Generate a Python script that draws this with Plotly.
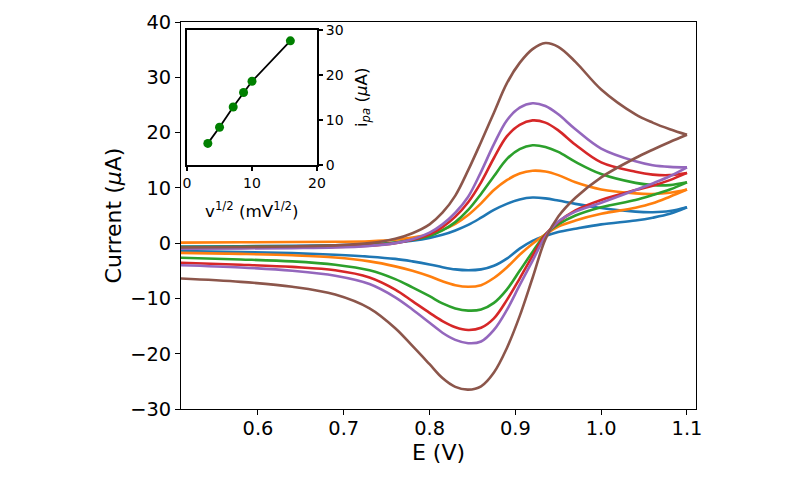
import plotly.graph_objects as go

# Potential grid (V), ascending; forward sweep runs along it, reverse sweep runs back
E = [0.51, 0.58, 0.64, 0.69, 0.73, 0.76, 0.78, 0.80, 0.815, 0.83, 0.845, 0.86,
     0.875, 0.89, 0.905, 0.92, 0.935, 0.95, 0.97, 1.00, 1.04, 1.06, 1.08, 1.10]
E_rev = E[::-1]

# Currents (uA). *_fwd follow E (0.51 -> 1.10); *_rev follow E_rev (1.10 -> 0.51)
i10_fwd = [-0.6, -0.55, -0.5, -0.4, -0.2, 0.1, 0.45, 0.95, 1.5, 2.3, 3.3, 4.6,
           6.0, 7.1, 7.9, 8.25, 8.1, 7.7, 7.1, 6.35, 5.7, 5.6, 5.8, 6.5]
i10_rev = [6.5, 5.3, 4.6, 4.1, 3.4, 2.6, 2.0, 1.3, 0.4, -1.0, -2.8, -4.1,
           -4.75, -4.9, -4.75, -4.35, -3.85, -3.3, -2.85, -2.45, -2.1, -1.8, -1.6, -1.45]

i25_fwd = [0.1, 0.15, 0.2, 0.25, 0.35, 0.6, 1.0, 1.6, 2.4, 3.5, 5.1, 7.2,
           9.6, 11.4, 12.6, 13.1, 12.95, 12.3, 11.0, 9.7, 9.0, 8.9, 9.1, 9.7]
i25_rev = [9.7, 8.4, 7.2, 6.4, 5.3, 4.1, 3.0, 1.6, -0.1, -2.1, -4.4, -6.3,
           -7.6, -7.9, -7.6, -6.9, -6.0, -5.0, -4.2, -3.3, -2.6, -2.2, -1.95, -1.75]

i50_fwd = [-0.7, -0.65, -0.6, -0.5, -0.3, 0.1, 0.6, 1.3, 2.3, 3.8, 6.0, 8.9,
           12.1, 15.2, 17.0, 17.7, 17.4, 16.5, 14.7, 12.5, 10.9, 10.5, 10.5, 11.0]
i50_rev = [11.0, 9.7, 8.7, 7.8, 6.5, 5.0, 3.4, 1.6, -1.6, -5.0, -8.4, -10.8,
           -12.0, -12.2, -11.8, -10.9, -9.6, -8.0, -6.5, -4.9, -3.9, -3.3, -2.95, -2.65]

i75_fwd = [-0.9, -0.85, -0.8, -0.7, -0.45, 0.0, 0.6, 1.6, 2.9, 4.8, 7.4, 11.0,
           15.4, 19.3, 21.4, 22.2, 21.8, 20.4, 17.8, 14.6, 12.9, 12.4, 12.3, 12.7]
i75_rev = [12.7, 11.4, 10.4, 9.6, 7.8, 5.9, 3.8, 1.5, -2.3, -6.4, -10.3, -13.6,
           -15.3, -15.7, -15.2, -14.1, -12.6, -10.5, -8.4, -6.2, -4.9, -4.3, -3.9, -3.55]

i100_fwd = [-1.0, -0.95, -0.9, -0.8, -0.5, 0.0, 0.7, 1.9, 3.4, 5.5, 8.4, 12.9,
            17.9, 22.2, 24.5, 25.3, 24.8, 23.3, 20.6, 17.1, 14.8, 14.1, 13.8, 13.7]
i100_rev = [13.7, 12.1, 10.8, 9.6, 7.3, 5.7, 3.9, 1.2, -3.2, -7.6, -12.1, -15.7,
            -17.8, -18.1, -17.5, -16.2, -14.4, -12.0, -9.8, -7.4, -5.9, -5.0, -4.4, -4.0]

i250_fwd = [-0.8, -0.7, -0.6, -0.4, 0.0, 0.8, 1.8, 3.4, 5.5, 8.6, 13.2, 18.3,
            23.6, 28.9, 32.6, 35.1, 36.2, 35.5, 32.8, 27.8, 23.3, 21.8, 20.6, 19.6]
i250_rev = [19.6, 18.3, 16.9, 15.4, 11.9, 8.2, 4.8, 0.7, -6.3, -13.2, -19.0, -23.4,
            -25.9, -26.5, -26.0, -24.4, -21.9, -18.6, -15.4, -11.8, -9.3, -7.9, -7.0, -6.4]

# Inset: anodic peak current vs square root of scan rate
sqrt_v = [3.2, 5.0, 7.1, 8.7, 10.0, 15.9]
i_pa = [4.8, 8.4, 12.9, 16.1, 18.6, 27.6]

colors = ["#1f77b4", "#ff7f0e", "#2ca02c", "#d62728", "#9467bd", "#8c564b"]
curves = [(i10_fwd, i10_rev), (i25_fwd, i25_rev), (i50_fwd, i50_rev),
          (i75_fwd, i75_rev), (i100_fwd, i100_rev), (i250_fwd, i250_rev)]

FONT = "DejaVu Sans"
fig = go.Figure()
for (fwd, rev), c in zip(curves, colors):
    for xs, ys in ((E, fwd), (E_rev, rev)):
        fig.add_trace(go.Scatter(x=xs, y=ys, mode="lines",
                                 line=dict(color=c, width=2.6, shape="spline", smoothing=1.0),
                                 showlegend=False, hoverinfo="skip"))

fig.add_trace(go.Scatter(x=sqrt_v, y=i_pa, mode="lines+markers",
                         line=dict(color="black", width=1.8),
                         marker=dict(color="green", size=9),
                         xaxis="x2", yaxis="y2", showlegend=False))

yt = [-30, -20, -10, 0, 10, 20, 30, 40]
MAIN_TICK = 19.4
MAIN_TITLE = 22
INSET_TICK = 14
INSET_TITLE = 16.7
fig.update_layout(
    width=800, height=480,
    margin=dict(l=181, r=104, t=22, b=71),
    paper_bgcolor="white", plot_bgcolor="white",
    font=dict(family=FONT, color="black"),
    xaxis=dict(domain=[0, 1], range=[0.5103, 1.1105],
               tickvals=[0.6, 0.7, 0.8, 0.9, 1.0, 1.1],
               ticktext=["0.6", "0.7", "0.8", "0.9", "1.0", "1.1"],
               ticks="outside", ticklen=5, tickwidth=1, tickcolor="black",
               ticklabelstandoff=-3,
               showline=True, mirror=True, linecolor="black", linewidth=1,
               showgrid=False, zeroline=False,
               tickfont=dict(size=MAIN_TICK, color="black"),
               title=dict(text="E (V)", font=dict(size=MAIN_TITLE, color="black"), standoff=0)),
    yaxis=dict(domain=[0, 1], range=[-30, 40], tickvals=yt,
               ticktext=[("\u2212" + str(-v)) if v < 0 else str(v) for v in yt],
               ticks="outside", ticklen=5, tickwidth=1, tickcolor="black",
               showline=True, mirror=True, linecolor="black", linewidth=1,
               showgrid=False, zeroline=False,
               tickfont=dict(size=MAIN_TICK, color="black"),
               title=dict(text="Current (<i>\u03bc</i>A)",
                          font=dict(size=MAIN_TITLE, color="black"), standoff=2)),
    xaxis2=dict(domain=[0.0117, 0.2641], anchor="y2", range=[0, 20],
                tickvals=[0, 10, 20], ticks="outside", ticklen=4, tickwidth=1.5,
                tickcolor="black", showline=True, mirror=True, linecolor="black",
                linewidth=2, showgrid=False, zeroline=False,
                tickfont=dict(size=INSET_TICK, color="black")),
    yaxis2=dict(domain=[0.6305, 0.9793], anchor="x2", side="right", range=[0, 30],
                tickvals=[0, 10, 20, 30], ticks="outside", ticklen=4, tickwidth=1.5,
                tickcolor="black", showline=True, mirror=True, linecolor="black",
                linewidth=2, showgrid=False, zeroline=False,
                tickfont=dict(size=INSET_TICK, color="black")),
    annotations=[
        dict(text="v<sup>1/2</sup> (mV<sup>1/2</sup>)", xref="paper", yref="paper",
             x=0.1379, y=0.5142, xanchor="center", yanchor="middle", showarrow=False,
             font=dict(size=INSET_TITLE, color="black", family=FONT)),
        dict(text="i<sub><i>pa</i></sub> (<i>\u03bc</i>A)", xref="paper", yref="paper",
             x=0.3515, y=0.806, xanchor="center", yanchor="middle", showarrow=False,
             textangle=-90, font=dict(size=INSET_TITLE, color="black", family=FONT)),
    ],
)

fig.write_html("out.html")
